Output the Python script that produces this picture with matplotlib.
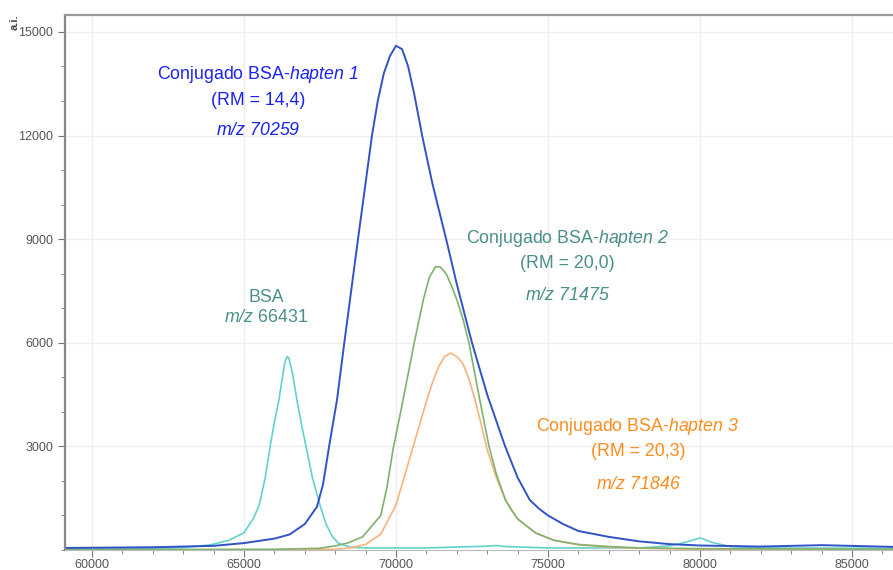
import matplotlib
matplotlib.use("Agg")
import matplotlib.pyplot as plt
from matplotlib.ticker import MultipleLocator

plt.rcParams['font.family'] = ['Liberation Sans', 'DejaVu Sans']
# everything inside $...$ is drawn in italic Liberation Sans, digits included
plt.rcParams['mathtext.fontset'] = 'custom'
plt.rcParams['mathtext.rm'] = 'Liberation Sans:italic'
plt.rcParams['mathtext.it'] = 'Liberation Sans:italic'

# BSA (cyan)
bsa_mz = [59112, 62000, 63000, 63900, 64500, 65000, 65300, 65500, 65700, 65860,
          66000, 66150, 66300, 66350, 66420, 66480, 66600, 66740, 66900, 67040,
          67250, 67500, 67700, 67900, 68100, 68500, 69000, 71000, 73000, 73300,
          73600, 75000, 78000, 79000, 79500, 80000, 80400, 81000, 82000, 86349]
bsa_int = [30, 40, 70, 150, 280, 500, 900, 1300, 2100, 3000,
           3700, 4350, 5200, 5450, 5600, 5550, 5100, 4350, 3600, 3000,
           2100, 1300, 750, 400, 200, 80, 60, 60, 110, 130,
           100, 60, 60, 120, 220, 350, 220, 100, 60, 50]

# Conjugado BSA-hapten 1 (blue)
h1_mz = [59112, 62000, 64000, 65000, 66000, 66500, 67000, 67400, 67600, 67800,
         68060, 68300, 68750, 69210, 69400, 69600, 69800, 70000, 70200, 70400,
         70600, 70860, 71200, 71650, 72000, 72500, 73000, 73590, 74000, 74400,
         74700, 75000, 75500, 76000, 77000, 78000, 79000, 80000, 82000, 84000,
         86349]
h1_int = [60, 80, 120, 200, 330, 450, 750, 1250, 1900, 3000,
          4350, 6000, 9000, 12000, 13000, 13800, 14300, 14600, 14500, 14000,
          13200, 12000, 10600, 9000, 7700, 6000, 4500, 3000, 2100, 1450,
          1200, 1000, 750, 550, 380, 250, 170, 130, 100, 140,
          90]

# Conjugado BSA-hapten 2 (green)
h2_mz = [59112, 66000, 67500, 68000, 68400, 68900, 69500, 69700, 69900, 70200,
         70600, 70900, 71100, 71300, 71450, 71650, 71800, 72000, 72200, 72400,
         72700, 73060, 73300, 73600, 73800, 74000, 74600, 75200, 76000, 77000,
         78000, 80000, 86349]
h2_int = [10, 20, 50, 120, 200, 380, 1000, 1800, 2900, 4200,
          6000, 7250, 7900, 8200, 8200, 8000, 7700, 7250, 6700, 6000,
          4600, 3000, 2200, 1450, 1150, 900, 490, 280, 160, 100,
          60, 40, 20]

# Conjugado BSA-hapten 3 (orange)
h3_mz = [59112, 67000, 68000, 68500, 69000, 69500, 70000, 70500, 70700, 71000,
         71200, 71400, 71600, 71800, 72000, 72200, 72400, 72600, 72800, 73000,
         73300, 73600, 74000, 74600, 75200, 76000, 77000, 78000, 80000, 86349]
h3_int = [5, 10, 20, 60, 160, 460, 1300, 2800, 3400, 4300,
          4850, 5300, 5600, 5700, 5600, 5400, 4950, 4350, 3650, 2900,
          2100, 1450, 900, 490, 280, 150, 80, 50, 20, 10]

fig = plt.figure(figsize=(8.93, 5.70), dpi=100)
ax = fig.add_axes([65 / 893, 20 / 570, 1 - 65 / 893, 535 / 570])

ax.plot(bsa_mz, bsa_int, color='#62d2cc', lw=1.2)
ax.plot(h3_mz, h3_int, color='#f8b27a', lw=1.2)
ax.plot(h2_mz, h2_int, color='#7fb26e', lw=1.2)
ax.plot(h1_mz, h1_int, color='#3252c8', lw=1.4)

ax.set_xlim(59112, 86349)
ax.set_ylim(0, 15490)
ax.xaxis.set_major_locator(MultipleLocator(5000))
ax.xaxis.set_minor_locator(MultipleLocator(1000))
ax.yaxis.set_minor_locator(MultipleLocator(1000))
ax.set_yticks([3000, 6000, 9000, 12000, 15000])

ax.grid(True, which='major', color='#eeeeee', lw=1)
ax.set_axisbelow(True)
ax.tick_params(which='major', direction='out', length=5, color='#777777',
               labelsize=9, labelcolor='#555555')
ax.tick_params(axis='x', which='major', pad=1.5)
ax.tick_params(which='minor', direction='out', length=3, color='#777777')

ax.spines['right'].set_visible(False)
ax.spines['left'].set_color('#888888')
ax.spines['left'].set_linewidth(1.6)
ax.spines['top'].set_color('#999999')
ax.spines['top'].set_linewidth(1.6)
ax.spines['bottom'].set_color('#bbbbbb')
ax.spines['bottom'].set_linewidth(0.8)

fig.text(15 / 893, 1 - 22 / 570, 'a.i.', rotation=90, ha='center', va='center',
         fontsize=8, fontweight='bold', color='#444444')

fs = 12.8
c1 = '#1a22ee'
ax.text(65460, 13775, r'Conjugado BSA-$hapten\ 1$', color=c1, fontsize=fs, ha='center', va='center')
ax.text(65460, 13020, '(RM = 14,4)', color=c1, fontsize=fs, ha='center', va='center')
ax.text(65460, 12150, r'$m/z\ 70259$', color=c1, fontsize=fs, ha='center', va='center')

cb = '#4a8f8a'
ax.text(65720, 7310, 'BSA', color=cb, fontsize=fs, ha='center', va='center')
ax.text(65720, 6730, r'$m/z$ 66431', color=cb, fontsize=fs, ha='center', va='center')

ax.text(75630, 9020, r'Conjugado BSA-$hapten\ 2$', color=cb, fontsize=fs, ha='center', va='center')
ax.text(75630, 8290, '(RM = 20,0)', color=cb, fontsize=fs, ha='center', va='center')
ax.text(75630, 7370, r'$m/z\ 71475$', color=cb, fontsize=fs, ha='center', va='center')

c3 = '#ff8c1c'
ax.text(77960, 3570, r'Conjugado BSA-$hapten\ 3$', color=c3, fontsize=fs, ha='center', va='center')
ax.text(77960, 2840, '(RM = 20,3)', color=c3, fontsize=fs, ha='center', va='center')
ax.text(77960, 1910, r'$m/z\ 71846$', color=c3, fontsize=fs, ha='center', va='center')

fig.savefig('out.png', dpi=100)
